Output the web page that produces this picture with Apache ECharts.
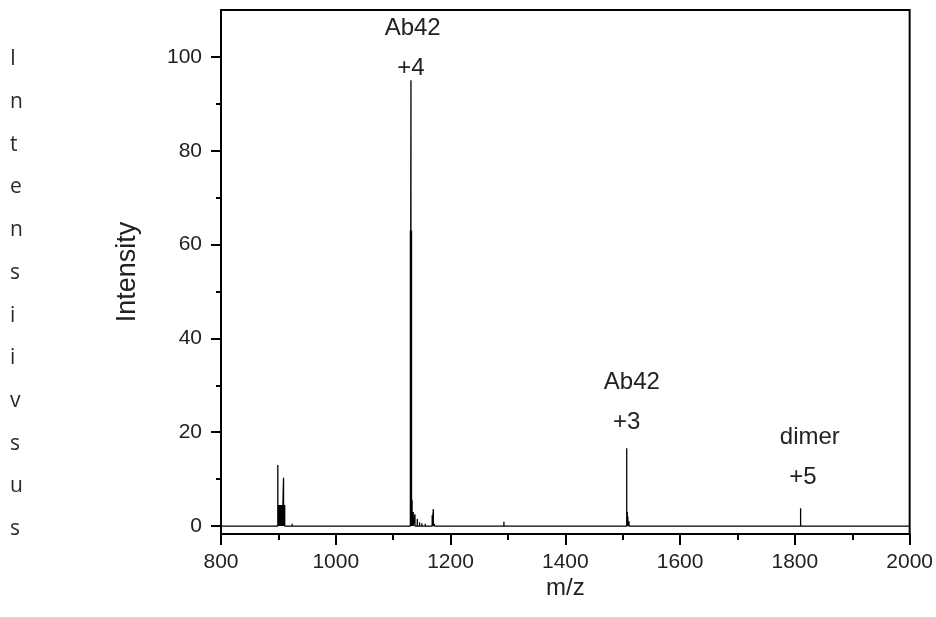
<!DOCTYPE html>
<html>
<head>
<meta charset="utf-8">
<script src="https://cdn.jsdelivr.net/npm/echarts@6/dist/echarts.min.js"></script>
<style>html,body{margin:0;padding:0;background:#fff;}#c{width:936px;height:617px;}</style>
</head>
<body>
<div id="c"></div>
<script>
// ---- data ----
const sideLetters = ['I','n','t','e','n','s','i','i','v','s','u','s'];
const xTicks = [800, 1000, 1200, 1400, 1600, 1800, 2000];
const yTicksMajor = [0, 20, 40, 60, 80, 100];
const yTicksMinor = [10, 30, 50, 70, 90];
// peak positions (m/z) and intensities
const peakMz = [835, 899, 901, 903, 905, 907, 909, 911, 924, 931, 936, 940,
  1130, 1131, 1132, 1133, 1135, 1138, 1142, 1146, 1150, 1156, 1168, 1170, 1172,
  1198, 1201, 1229, 1233, 1293, 1507, 1508, 1509, 1511, 1525, 1540, 1558, 1810, 1938];
const peakInt = [0.3, 13, 4.5, 4.5, 4.5, 4.5, 10.3, 4.5, 0.5, 0.3, 0.3, 0.3,
  63, 95, 63, 5.5, 3, 2.5, 1.5, 0.8, 0.6, 0.5, 2.3, 3.6, 0.5,
  0.4, 0.4, 0.2, 0.2, 0.9, 16.6, 3, 2, 1, 0.3, 0.3, 0.3, 3.8, 0.3];
const annotations = [
  {text: 'Ab42', mz: 1134, y: 106},
  {text: '+4', mz: 1131, y: 97.6},
  {text: 'Ab42', mz: 1516, y: 30.7},
  {text: '+3', mz: 1507, y: 22.2},
  {text: 'dimer', mz: 1826, y: 18.8},
  {text: '+5', mz: 1814, y: 10.4}
];
const xMin = 800, xMax = 2000, yMin = -1.7, yMax = 110;

// build stick spectrum polyline from the peak arrays
const lineData = [[xMin, 0]];
for (let i = 0; i < peakMz.length; i++) {
  lineData.push([peakMz[i], 0], [peakMz[i], peakInt[i]], [peakMz[i], 0]);
}
lineData.push([xMax, 0]);

const FONT = 'Liberation Sans';
const chart = echarts.init(document.getElementById('c'), null, {renderer: 'canvas'});
chart.setOption({
  animation: false,
  backgroundColor: '#fff',
  title: {
    text: sideLetters.join('\n'),
    left: 5, top: 33,
    textStyle: {fontFamily: 'Open Sans', fontSize: 21, fontWeight: 'normal', color: '#2a2a2a', lineHeight: 42.7}
  },
  grid: {left: 221, right: 26, top: 10, bottom: 83, show: true, borderColor: '#000', borderWidth: 2, backgroundColor: 'transparent'},
  xAxis: {
    type: 'value', min: xMin, max: xMax, interval: 200,
    name: 'm/z', nameLocation: 'middle', nameGap: 42, nameMoveOverlap: false,
    nameTextStyle: {fontFamily: FONT, fontSize: 24, color: '#222', verticalAlign: 'top'},
    axisLine: {show: true, onZero: false, lineStyle: {color: '#000', width: 2}},
    axisTick: {show: true, inside: false, length: 11, lineStyle: {color: '#000', width: 2}},
    minorTick: {show: true, splitNumber: 2, length: 6, lineStyle: {color: '#000', width: 2}},
    axisLabel: {fontFamily: FONT, fontSize: 21, color: '#222', margin: 18, customValues: xTicks, formatter: v => String(v)},
    splitLine: {show: false}
  },
  yAxis: [{
    type: 'value', min: yMin, max: yMax,
    name: 'Intensity', nameLocation: 'middle', nameGap: 80, nameRotate: 90, nameMoveOverlap: false,
    nameTextStyle: {fontFamily: FONT, fontSize: 27, color: '#222'},
    axisLine: {show: true, onZero: false, lineStyle: {color: '#000', width: 2}},
    axisTick: {show: true, inside: false, length: 10, customValues: yTicksMajor, lineStyle: {color: '#000', width: 2}},
    axisLabel: {fontFamily: FONT, fontSize: 21, color: '#222', margin: 19, customValues: yTicksMajor, formatter: v => String(v)},
    splitLine: {show: false}
  }, {
    type: 'value', min: yMin, max: yMax, position: 'left', offset: 0,
    axisLine: {show: false},
    axisTick: {show: true, inside: false, length: 5, customValues: yTicksMinor, lineStyle: {color: '#000', width: 2}},
    axisLabel: {show: false},
    splitLine: {show: false}
  }],
  series: [{
    type: 'line',
    data: lineData,
    showSymbol: false,
    symbol: 'none',
    lineStyle: {color: '#000', width: 1.3},
    z: 3,
    markPoint: {
      symbol: 'circle', symbolSize: 0,
      label: {show: true, position: 'inside', formatter: p => p.name, fontFamily: FONT, fontSize: 24, color: '#222'},
      data: annotations.map(a => ({name: a.text, coord: [a.mz, a.y]}))
    }
  }]
});
</script>
</body>
</html>
